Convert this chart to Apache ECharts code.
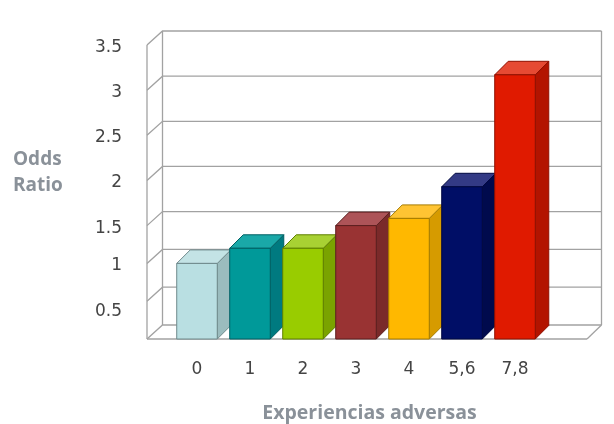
<!DOCTYPE html>
<html><head><meta charset="utf-8">
<style>html,body{margin:0;padding:0;background:#fff}#c{width:614px;height:424px}</style>
<script src="https://cdn.jsdelivr.net/npm/echarts@6/dist/echarts.min.js"></script>
</head><body><div id="c"></div>
<script>
const categories = ['0','1','2','3','4','5,6','7,8'];
const oddsRatio = [1.0, 1.2, 1.2, 1.5, 1.58, 1.93, 3.17];
const gridValues = [0, 0.5, 1, 1.5, 2, 2.5, 3, 3.5];
const tickLabels = ['0.5','1','1.5','2','2.5','3','3.5'];
const tickValues = [0.5, 1, 1.5, 2, 2.5, 3, 3.5];

const frontColors = ['#b9dfe2','#009999','#99cc00','#993333','#ffb800','#000e66','#e01a00'];
const sideColors  = ['#9bbcbe','#007a80','#7aa300','#7a2a2a','#d69b00','#000a4d','#b31400'];
const topColors   = ['#c3e3e5','#1aa8a8','#a8d133','#ad5458','#ffc433','#333a85','#e64a33'];
const edgeColors  = ['#6f8a8c','#005f63','#5f7f00','#5c1f1f','#a67c00','#000840','#8f1000'];

// The source chart's scale is compressed below 1.5
const LOW_FACTOR = 38 / 45.4;
const warp = v => v <= 1.5 ? v * LOW_FACTOR : 1.5 * LOW_FACTOR + (v - 1.5);

const DX = 15.5, DY = 14, WALL_L = 23.5, WALL_R = 45.5, LINE = '#a2a2a2';
const line = (pts, w) => ({type:'polyline', shape:{points:pts}, style:{stroke:LINE, lineWidth:w||1.3, fill:null}});

const chart = echarts.init(document.getElementById('c'), null, {renderer:'canvas'});
chart.setOption({
  animation:false,
  backgroundColor:'#fff',
  grid:{left:170.5, right:72.5, top:45, bottom:85, outerBoundsMode:'none'},
  graphic:[{
    type:'text', left:13, top:147, silent:true,
    style:{text:'Odds\nRatio', fill:'#8a9199', font:'700 19px "Open Sans"', lineHeight:26}
  }],
  xAxis:{
    type:'category', data:categories,
    axisLine:{show:false}, axisTick:{show:false},
    axisLabel:{color:'#444', fontFamily:'DejaVu Sans', fontSize:17, margin:22, interval:0},
    name:'Experiencias adversas', nameLocation:'middle', nameGap:64,
    nameTextStyle:{color:'#8a9199', fontFamily:'Open Sans', fontWeight:700, fontSize:19.5, padding:[0,0,0,27]}
  },
  yAxis:{
    type:'value', min:0, max:warp(3.5), offset:23.5,
    axisLine:{show:false}, axisTick:{show:false}, splitLine:{show:false},
    axisLabel:{
      customValues:tickValues.map(warp), color:'#444', fontFamily:'DejaVu Sans', fontSize:17, margin:25, align:'right',
      padding:[5,0,0,0],
      formatter:(val)=>{
        const i = tickValues.findIndex(t=>Math.abs(warp(t)-val)<1e-6);
        const s = tickLabels[i];
        return s==='0.5' ? '{lo|'+s+'}' : s;
      },
      rich:{lo:{color:'#444', fontFamily:'DejaVu Sans', fontSize:17, padding:[16,0,0,0]}}
    }
  },
  series:[
    {
      type:'custom', silent:true, clip:false, z:1,
      data:gridValues.map(v=>[0,v]),
      renderItem:(params,api)=>{
        const y = api.coord([0,warp(api.value(1))])[1];
        const g = params.coordSys;
        const l = g.x-WALL_L, r = g.x+g.width+WALL_R;
        const kids = [line([[l,y],[l+DX,y-DY],[r+DX-1,y-DY]])];
        if(api.value(1)===0){
          kids.push(line([[l,y],[r,y]],1.5));
          kids.push(line([[r,y],[r+DX-1,y-DY]]));
        }
        if(api.value(1)===3.5){
          const y0 = api.coord([0,0])[1];
          kids.push(line([[l,y],[l,y0]]));
          kids.push(line([[l+DX,y-DY],[l+DX,y0-DY]]));
          kids.push(line([[r+DX-1,y-DY],[r+DX-1,y0-DY]]));
        }
        return {type:'group', children:kids};
      }
    },
    {
      type:'custom', silent:true, clip:false, z:2,
      data:oddsRatio.map((v,i)=>[i,v]),
      encode:{x:0,y:1},
      renderItem:(params,api)=>{
        const i = api.value(0);
        const top = api.coord([i,warp(api.value(1))]);
        const base = api.coord([i,0]);
        const w = api.size([1,0])[0]*0.765;
        const x0 = top[0]-w/2, x1 = top[0]+w/2, yt = top[1], yb = base[1];
        const dx = 13.5, dy = 13.5;
        const edge = edgeColors[i];
        const poly = (pts,fill)=>({type:'polygon', shape:{points:pts}, style:{fill, stroke:edge, lineWidth:1}});
        return {type:'group', children:[
          poly([[x1,yb],[x1+dx,yb-dy],[x1+dx,yt-dy],[x1,yt]], sideColors[i]),
          poly([[x0,yt],[x0+dx,yt-dy],[x1+dx,yt-dy],[x1,yt]], topColors[i]),
          poly([[x0,yt],[x1,yt],[x1,yb],[x0,yb]], frontColors[i])
        ]};
      }
    }
  ]
});
</script></body></html>
